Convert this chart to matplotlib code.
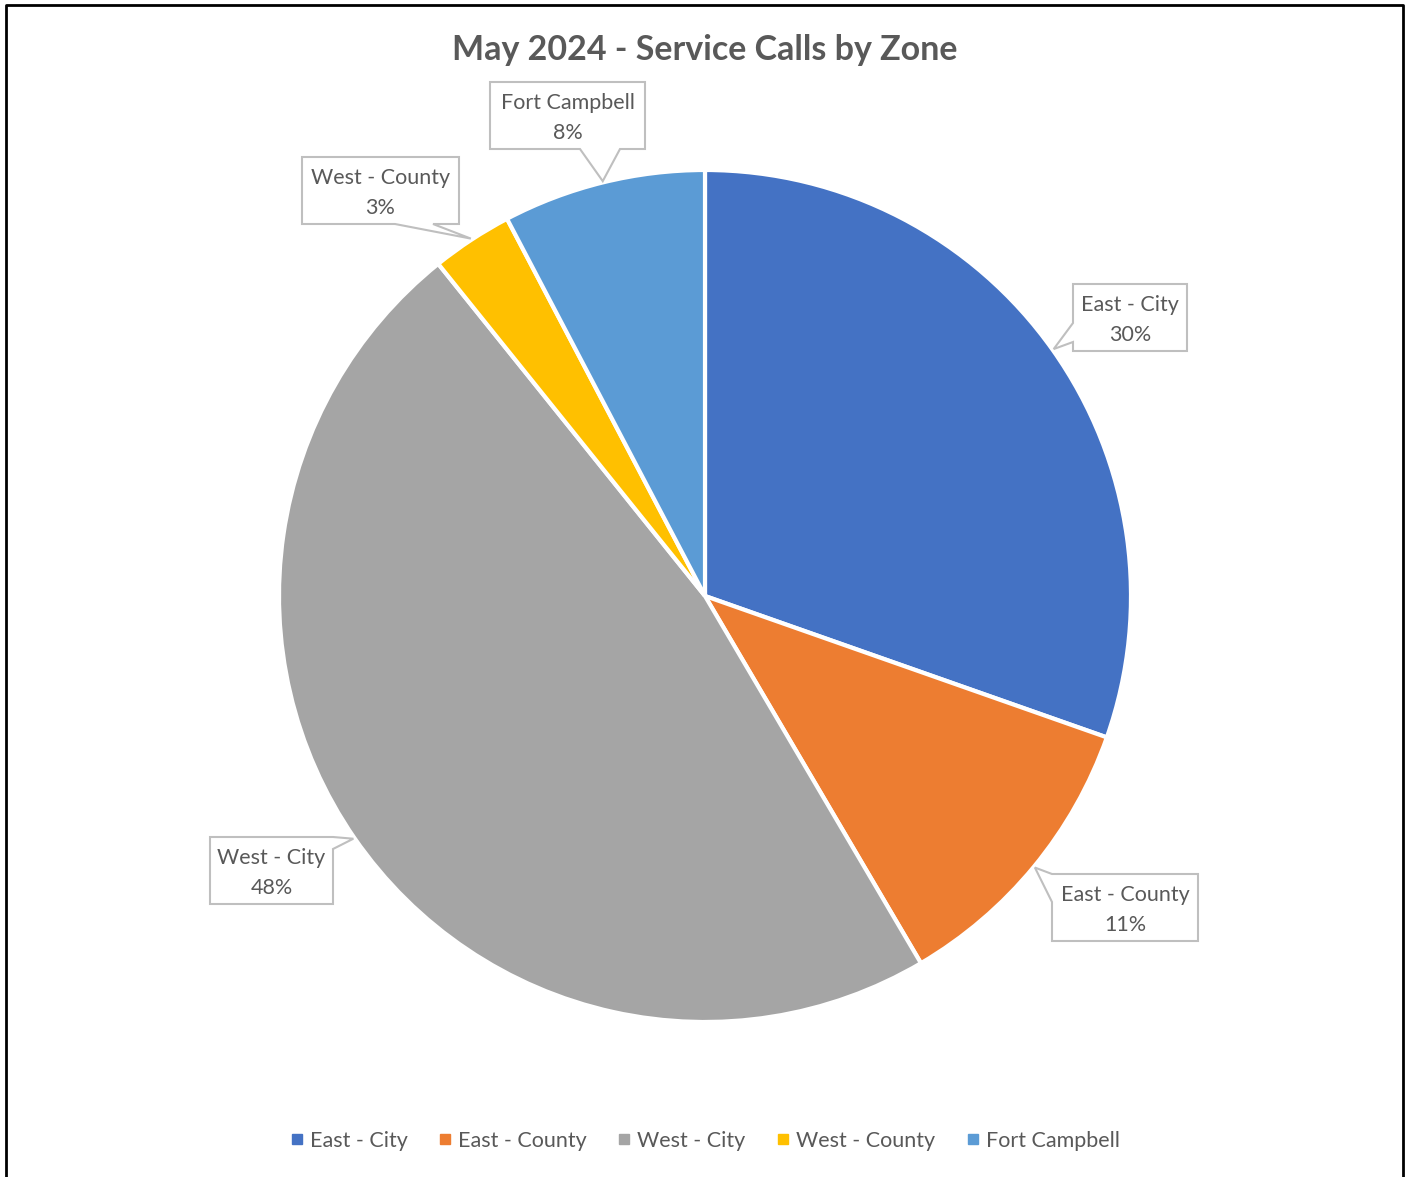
import matplotlib
matplotlib.use("Agg")
import matplotlib.pyplot as plt
from matplotlib.patches import Polygon
from matplotlib.lines import Line2D
import numpy as np

plt.rcParams['font.family'] = ['Lato', 'DejaVu Sans']

# ---- data ----
categories = ["East - City", "East - County", "West - City", "West - County", "Fort Campbell"]
calls = [79, 29, 124, 8, 20]
colors = ["#4472C4", "#ED7D31", "#A5A5A5", "#FFC000", "#5B9BD5"]
title = "May 2024 - Service Calls by Zone"

# ---- layout (pixel coordinates, y measured from top) ----
W, H = 1405, 1177
CX, CY_IMG, R = 705, 596, 426
# callout boxes: (x0, y0, x1, y1), pointer edge, pointer base (two coords along the edge)
boxes = [
    ((1073, 284, 1187, 351), "left", (323, 342)),
    ((1052, 874, 1198, 941), "left", (874, 902)),
    ((210, 837, 333, 904), "right", (837, 849)),
    ((302, 157, 459, 224), "bottom", (395, 433)),
    ((490, 82, 645, 149), "bottom", (580, 620)),
]

fig = plt.figure(figsize=(W / 100, H / 100), dpi=100)
ax = fig.add_axes([0, 0, 1, 1])

wedges, _ = ax.pie(calls, colors=colors, startangle=90, counterclock=False,
                   center=(CX, H - CY_IMG), radius=R,
                   wedgeprops=dict(edgecolor="white", linewidth=3))
ax.set_xlim(0, W)
ax.set_ylim(0, H)
ax.set_aspect("auto")
ax.axis("off")

total = sum(calls)
edge_c = "#BFBFBF"
text_c = "#595959"
for w, cat, v, (box, side, base) in zip(wedges, categories, calls, boxes):
    mid = np.deg2rad((w.theta1 + w.theta2) / 2)
    tip = (CX + R * 1.003 * np.cos(mid), (H - CY_IMG) + R * 1.003 * np.sin(mid))
    x0, y0, x1, y1 = box
    TL, TR, BR, BL = (x0, H - y0), (x1, H - y0), (x1, H - y1), (x0, H - y1)
    if side == "bottom":
        verts = [TL, TR, BR, (base[1], H - y1), tip, (base[0], H - y1), BL]
    elif side == "left":
        verts = [TL, TR, BR, BL, (x0, H - base[1]), tip, (x0, H - base[0])]
    else:
        verts = [TL, TR, (x1, H - base[0]), tip, (x1, H - base[1]), BR, BL]
    ax.add_patch(Polygon(verts, closed=True, facecolor="white", edgecolor=edge_c,
                         linewidth=1.5, zorder=5))
    pct = f"{round(v / total * 100)}%"
    ax.text((x0 + x1) / 2, H - (y0 + y1) / 2 - 2.5, f"{cat}\n{pct}", ha="center", va="center",
            fontsize=15.5, color=text_c, linespacing=1.6, zorder=6)

fig.text(CX / W, 1 - 50 / H, title, ha="center", va="center", fontsize=24.5,
         fontweight="bold", color=text_c)

handles = [Line2D([], [], marker="s", linestyle="none", markersize=6.5,
                  markerfacecolor=c, markeredgecolor=c) for c in colors]
fig.legend(handles, categories, ncol=5, loc="center",
           bbox_to_anchor=(CX / W, 1 - 1141 / H), frameon=False,
           handlelength=0.6, handletextpad=0.3, columnspacing=1.45,
           fontsize=15.5, labelcolor=text_c)

# chart border: left, top, right
fig.add_artist(Line2D([6 / W, 6 / W, 1403 / W, 1403 / W], [0, 1 - 5 / H, 1 - 5 / H, 0],
                      transform=fig.transFigure, color="black", linewidth=2))

fig.savefig("out.png", dpi=100)
